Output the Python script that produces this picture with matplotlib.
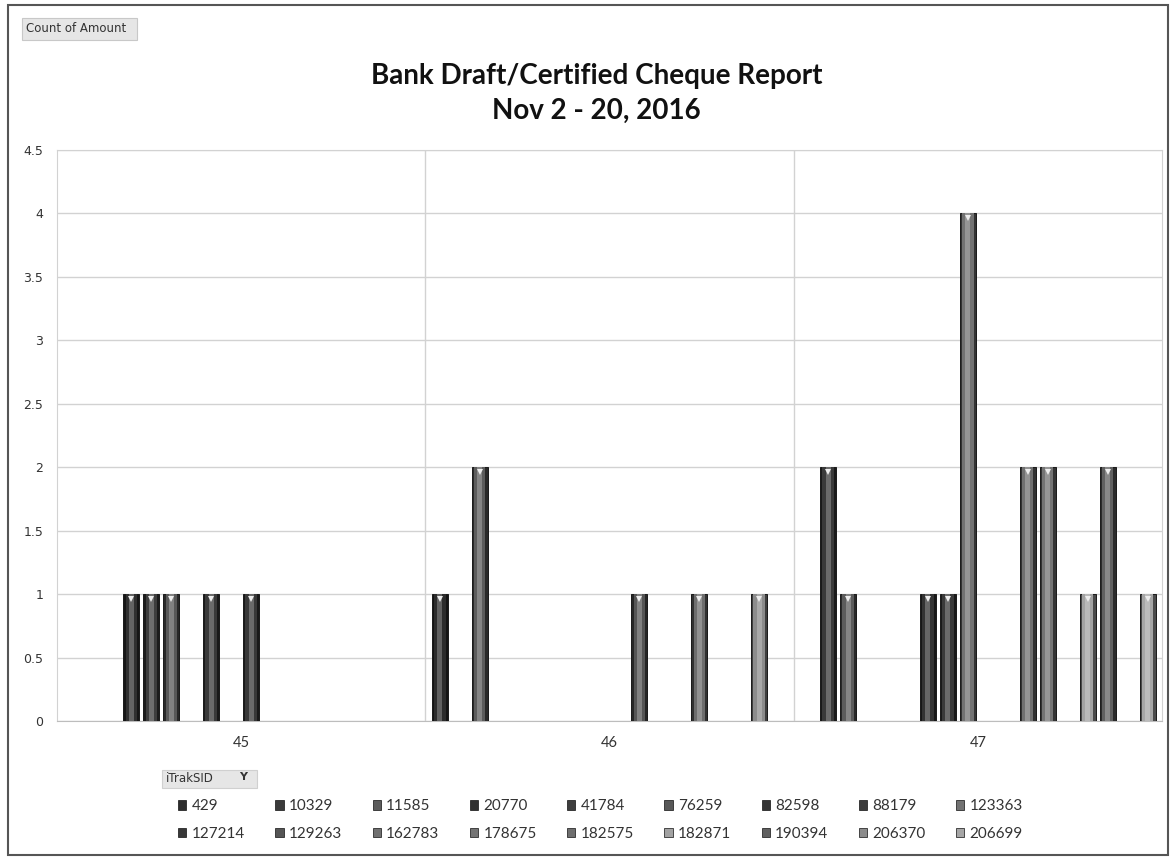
import matplotlib
matplotlib.use("Agg")
import matplotlib.pyplot as plt
import numpy as np
from matplotlib.patches import Rectangle, Patch, FancyBboxPatch
from matplotlib.ticker import FuncFormatter, MultipleLocator
import matplotlib.transforms as mtransforms

# ---------------- data ----------------
weeks = ["45", "46", "47"]
series_ids = ["429", "10329", "11585", "20770", "41784", "76259", "82598", "88179", "123363",
              "127214", "129263", "162783", "178675", "182575", "182871", "190394", "206370", "206699"]
week45 = [0, 0, 0, 1, 1, 1, 0, 1, 0, 1, 0, 0, 0, 0, 0, 0, 0, 0]
week46 = [1, 0, 2, 0, 0, 0, 0, 0, 0, 0, 1, 0, 0, 1, 0, 0, 1, 0]
week47 = [0, 2, 1, 0, 0, 0, 1, 1, 4, 0, 0, 2, 2, 0, 1, 2, 0, 1]
series_colors = ["#2c2c2c", "#3a3a3a", "#5c5c5c", "#303030", "#3e3e3e", "#585858", "#333333",
                 "#3a3a3a", "#727272", "#383838", "#555555", "#707070", "#747474", "#6e6e6e",
                 "#a2a2a2", "#606060", "#8c8c8c", "#a6a6a6"]
title_lines = ["Bank Draft/Certified Cheque Report", "Nov 2 - 20, 2016"]

W, H = 1176, 857
fig = plt.figure(figsize=(W / 100, H / 100), dpi=100)
fig.patch.set_facecolor("white")

def px(x, y):
    return x / W, 1 - y / H

ax_l, ax_t, ax_r, ax_b = 57, 150, 1162, 721
ax = fig.add_axes([ax_l / W, 1 - ax_b / H, (ax_r - ax_l) / W, (ax_b - ax_t) / H])

values = np.array([week45, week46, week47]).T  # shape (18, 3)
n = len(series_ids)
cat_idx = np.arange(len(weeks))
stride = 20 / 369
width = 16 / 369


def shade(c, f):
    rgb = np.array(matplotlib.colors.to_rgb(c))
    if f < 1:
        return tuple(rgb * f)
    return tuple(rgb + (1 - rgb) * (f - 1))


down = mtransforms.offset_copy(ax.transData, fig=fig, x=0, y=-3.4, units="points")
for j in range(n):
    xs = cat_idx + (j - (n - 1) / 2) * stride
    vals = values[j]
    mask = vals > 0
    c = series_colors[j]
    ax.bar(xs[mask], vals[mask], width=width, color=shade(c, 0.45), edgecolor="#1a1a1a",
           linewidth=0.7, zorder=3)
    ax.bar(xs[mask], vals[mask], width=width * 0.72, color=c, linewidth=0, zorder=3.1)
    ax.bar(xs[mask], vals[mask], width=width * 0.32, color=shade(c, 1.25), linewidth=0, zorder=3.2)
    ax.plot(xs[mask], vals[mask], linestyle="none", marker="v", markersize=5,
            color="#eeeeee", markeredgewidth=0, transform=down, zorder=3.3)

ax.set_xlim(-0.5, 2.5)
ax.set_ylim(0, 4.5)
ax.yaxis.set_major_locator(MultipleLocator(0.5))
ax.yaxis.set_major_formatter(FuncFormatter(lambda v, p: f"{v:g}"))
ax.set_xticks(cat_idx)
ax.set_xticklabels(weeks)
ax.set_xticks([0.5, 1.5], minor=True)
ax.grid(axis="y", which="major", color="#d2d2d2", linewidth=1.0, zorder=0)
ax.grid(axis="x", which="minor", color="#d2d2d2", linewidth=1.0, zorder=0)
ax.tick_params(axis="x", which="both", length=0, pad=11, labelsize=10.5, labelcolor="#333333")
ax.tick_params(axis="y", length=0, pad=10, labelsize=9, labelcolor="#333333")
for lab in ax.get_xticklabels():
    lab.set_fontfamily("Lato")
for s in ["left", "right", "top"]:
    ax.spines[s].set_color("#d2d2d2")
ax.spines["bottom"].set_color("#bdbdbd")

# title
fig.text(*px(597, 76), title_lines[0], ha="center", va="center", fontsize=20,
         fontweight="bold", family="Lato", color="#111111")
fig.text(*px(596, 111), title_lines[1], ha="center", va="center", fontsize=20,
         fontweight="bold", family="Lato", color="#111111")

# outer chart border
fig.add_artist(Rectangle(px(8, 855), (1168 - 8) / W, (855 - 5) / H, transform=fig.transFigure,
                         fill=False, edgecolor="#555555", linewidth=1.5))

# field buttons
fig.add_artist(FancyBboxPatch(px(22, 40), (137 - 22) / W, (40 - 18) / H,
                              boxstyle="square,pad=0", transform=fig.transFigure,
                              facecolor="#e6e6e6", edgecolor="#c8c8c8", linewidth=0.8))
fig.text(*px(26, 29), "Count of Amount", ha="left", va="center", fontsize=8.5,
         family=["Liberation Sans Narrow", "DejaVu Sans"], color="#333333")
fig.add_artist(FancyBboxPatch(px(162, 788), (257 - 162) / W, (788 - 770) / H,
                              boxstyle="square,pad=0", transform=fig.transFigure,
                              facecolor="#e6e6e6", edgecolor="#d0d0d0", linewidth=0.8))
fig.text(*px(166, 779), "iTrakSID", ha="left", va="center", fontsize=8.5,
         family=["Liberation Sans Narrow", "DejaVu Sans"], color="#333333")
fig.text(*px(243, 777), "Y", ha="center", va="center", fontsize=8, fontweight="bold",
         family="DejaVu Sans", color="#333333")

# legend (row-wise order)
handles = [Patch(facecolor=series_colors[k], edgecolor="#111111", linewidth=0.5, label=series_ids[k])
           for k in range(n)]
order = []
for col in range(9):
    order += [col, col + 9]
leg = fig.legend([handles[k] for k in order], [series_ids[k] for k in order], ncol=9,
                 loc="upper left", bbox_to_anchor=px(178, 799.5), frameon=False,
                 handlelength=0.55, handleheight=0.55, handletextpad=0.35,
                 columnspacing=1.98, labelspacing=0.9, borderpad=0, borderaxespad=0,
                 prop={"family": "Lato", "size": 11})
for t in leg.get_texts():
    t.set_color("#333333")

fig.savefig("out.png", dpi=100)
